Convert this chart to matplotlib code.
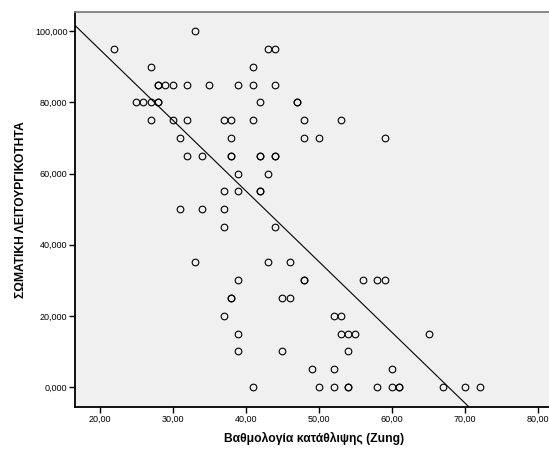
import matplotlib.pyplot as plt
import numpy as np
from matplotlib.ticker import FuncFormatter

plt.rcParams['font.family'] = ['Liberation Sans', 'DejaVu Sans']

# Βαθμολογία κατάθλιψης (Zung) / Σωματική λειτουργικότητα, one pair per participant
zung = [33, 22, 43, 44, 27, 41,
        28, 28, 29, 30, 32, 35, 39, 41, 44,
        25, 26, 27, 28, 28, 42, 47, 47,
        27, 30, 32, 37, 38, 41, 48, 53,
        31, 38, 48, 50, 59,
        32, 34, 38, 38, 42, 42, 44, 44,
        39, 43,
        37, 39, 42, 42,
        31, 34, 37,
        37, 44,
        33, 43, 46,
        39, 48, 48, 56, 58, 59,
        38, 38, 45, 46,
        37, 52, 53,
        39, 53, 54, 55, 65,
        39, 45, 54,
        49, 52, 60,
        41, 50, 52, 54, 54, 58, 60, 61, 61, 67, 70, 72]
somatiki = [100, 95, 95, 95, 90, 90,
            85, 85, 85, 85, 85, 85, 85, 85, 85,
            80, 80, 80, 80, 80, 80, 80, 80,
            75, 75, 75, 75, 75, 75, 75, 75,
            70, 70, 70, 70, 70,
            65, 65, 65, 65, 65, 65, 65, 65,
            60, 60,
            55, 55, 55, 55,
            50, 50, 50,
            45, 45,
            35, 35, 35,
            30, 30, 30, 30, 30, 30,
            25, 25, 25, 25,
            20, 20, 20,
            15, 15, 15, 15, 15,
            10, 10, 10,
            5, 5, 5,
            0, 0, 0, 0, 0, 0, 0, 0, 0, 0, 0, 0]

x_ticks = [20, 30, 40, 50, 60, 70, 80]
y_ticks = [0, 20, 40, 60, 80, 100]

fig = plt.figure(figsize=(5.49, 4.5), dpi=100)
ax = fig.add_axes([0.1366, 0.0962, 0.87, 0.877])
ax.set_facecolor('#f0f0f0')

ax.plot(zung, somatiki, 'o', ms=4.8, mfc='none', mec='black', mew=0.8, zorder=3)

# γραμμή παλινδρόμησης
b, a = np.polyfit(zung, somatiki, 1)
xs = np.array([10, 90])
ax.plot(xs, a + b * xs, color='black', lw=0.8, zorder=2)

ax.set_xlim(16.64, 81.97)
ax.set_ylim(-5.54, 105.4)
ax.set_xticks(x_ticks)
ax.set_yticks(y_ticks)
ax.xaxis.set_major_formatter(FuncFormatter(lambda v, p: f"{v:.2f}".replace('.', ',')))
ax.yaxis.set_major_formatter(FuncFormatter(lambda v, p: f"{v:.3f}".replace('.', ',')))
ax.tick_params(direction='out', length=4, width=1, labelsize=6.5, colors='black', pad=1.5)

for s in ['left', 'bottom']:
    ax.spines[s].set_linewidth(1.3)
    ax.spines[s].set_color('black')
ax.spines['top'].set_color('#808080')
ax.spines['top'].set_linewidth(1.3)
ax.spines['right'].set_visible(False)

ax.set_xlabel('Βαθμολογία κατάθλιψης (Zung)', fontsize=8.7, fontweight='bold', labelpad=6)
ax.set_ylabel('ΣΩΜΑΤΙΚΗ ΛΕΙΤΟΥΡΓΙΚΟΤΗΤΑ', fontsize=8.7, fontweight='bold', labelpad=6)

fig.savefig('out.png', dpi=100)
